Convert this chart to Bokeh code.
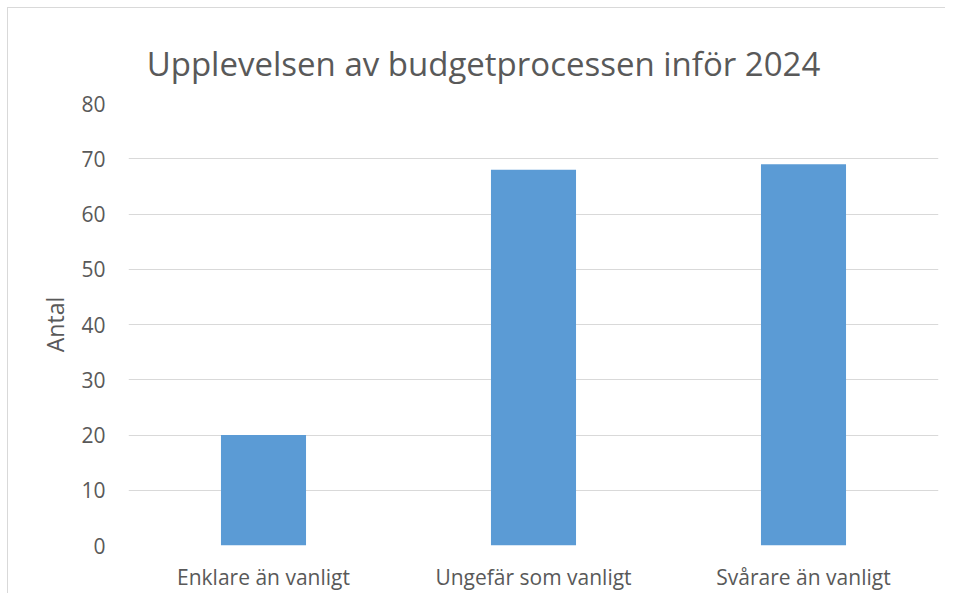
from bokeh.plotting import figure
from bokeh.models import FactorRange, Range1d, Label
from bokeh.layouts import column
from bokeh.embed import file_html
from bokeh.resources import INLINE

categories = ["Enklare än vanligt", "Ungefär som vanligt", "Svårare än vanligt"]
values = [20, 68, 69]
y_ticks = [0, 10, 20, 30, 40, 50, 60, 70, 80]
title_text = "Upplevelsen av budgetprocessen inför 2024"

FONT = "Open Sans"
GREY = "#595959"
BORDER = "1px solid #d9d9d9"

# Header strip holding the chart title; its frame lines up with the main
# frame, and its ranges are in canvas pixels for placement.
head = figure(width=938, height=81, output_backend="svg", toolbar_location=None,
              x_range=Range1d(120, 930), y_range=Range1d(0, 81),
              x_axis_location=None, y_axis_location=None,
              min_border_left=120, min_border_right=8, min_border_top=0, min_border_bottom=0)
head.grid.visible = False
head.outline_line_color = None
head.styles = {"border-left": BORDER, "border-top": BORDER}
head.add_layout(Label(x=475, y=26, text=title_text, text_align="center",
                      text_baseline="alphabetic", text_font=FONT, text_font_size="33px",
                      text_color=GREY))

p = figure(width=938, height=505, output_backend="svg", toolbar_location=None,
           x_range=FactorRange(*categories, range_padding=0),
           y_range=Range1d(0, 80),
           min_border_left=120, min_border_right=8, min_border_top=15, min_border_bottom=47)
p.styles = {"border-left": BORDER}

p.vbar(x=categories, top=values, width=0.315, color="#5b9bd5", line_color=None)

p.yaxis.ticker = y_ticks
p.yaxis.axis_label = "Antal"
p.yaxis.axis_label_text_font = FONT
p.yaxis.axis_label_text_font_size = "23px"
p.yaxis.axis_label_text_font_style = "normal"
p.yaxis.axis_label_text_color = GREY
p.yaxis.axis_label_standoff = 7

for ax in (p.xaxis[0], p.yaxis[0]):
    ax.axis_line_color = None
    ax.major_tick_line_color = None
    ax.minor_tick_line_color = None
    ax.major_tick_out = 0
    ax.major_tick_in = 0
    ax.minor_tick_out = 0
    ax.major_label_text_font = FONT
    ax.major_label_text_font_size = "21px"
    ax.major_label_text_color = GREY
p.yaxis.major_label_standoff = 23
p.xaxis.major_label_standoff = 17

p.xgrid.grid_line_color = None
p.ygrid.grid_line_color = "#d9d9d9"
p.ygrid.grid_line_width = 1
p.outline_line_color = None

layout = column(head, p, spacing=0, styles={"margin-left": "7px", "margin-top": "7px"})

open("out.html", "w").write(file_html(layout, INLINE))
